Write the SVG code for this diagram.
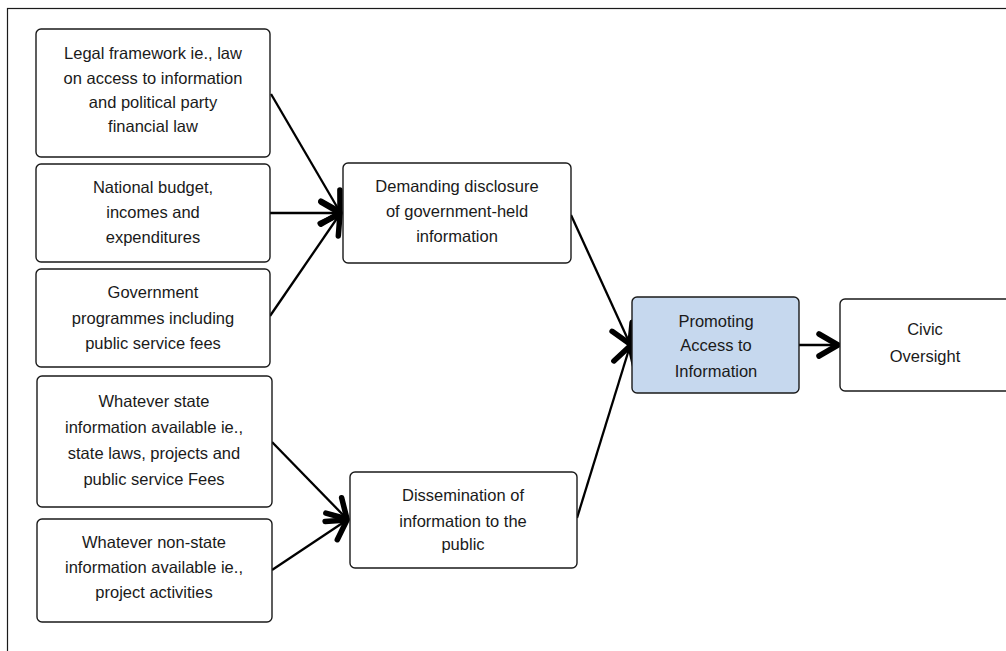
<svg xmlns="http://www.w3.org/2000/svg" width="1006" height="651" viewBox="0 0 1006 651">
  <style>
    .box { fill: #ffffff; stroke: #1a1a1a; stroke-width: 1.4; }
    .hl { fill: #c6d8ee; }
    .frame { fill: #ffffff; stroke: #1a1a1a; stroke-width: 1.2; }
    .lbl { font-family: "Liberation Sans", Arial, sans-serif; font-size: 16.5px; fill: #1a1a1a; text-anchor: middle; }
    .edge { fill: none; stroke: #000000; stroke-width: 2.3; marker-end: url(#head); }
  </style>
  <defs>
    <marker id="head" markerUnits="userSpaceOnUse" markerWidth="40" markerHeight="40" viewBox="-30 -20 40 40" refX="-2" refY="0" orient="auto" overflow="visible">
      <path d="M-21,-11 L-2,0 L-21,11" fill="none" stroke="#000000" stroke-width="5.5" stroke-linecap="round" stroke-linejoin="round"/>
    </marker>
  </defs>

  <!-- outer frame (continues past the right and bottom edges) -->
  <rect class="frame" x="7.5" y="8.5" width="1020" height="670"/>

  <!-- connectors -->
  <g id="connectors">
    <line class="edge" x1="271" y1="94" x2="340" y2="212"/>
    <line class="edge" x1="270" y1="213" x2="340" y2="213"/>
    <line class="edge" x1="270" y1="316" x2="340" y2="214"/>
    <line class="edge" x1="272" y1="442" x2="347" y2="519"/>
    <line class="edge" x1="272" y1="570" x2="347" y2="520"/>
    <line class="edge" x1="571" y1="215" x2="630" y2="344"/>
    <line class="edge" x1="577" y1="518" x2="630" y2="346"/>
    <line class="edge" x1="799" y1="345" x2="838" y2="345"/>
  </g>

  <!-- input nodes -->
  <g id="legal-framework">
    <rect class="box" x="36" y="29" width="234" height="128" rx="5"/>
    <text class="lbl" x="153" y="59">Legal framework ie., law</text>
    <text class="lbl" x="153" y="84">on access to information</text>
    <text class="lbl" x="153" y="108">and political party</text>
    <text class="lbl" x="153" y="132">financial law</text>
  </g>
  <g id="national-budget">
    <rect class="box" x="36" y="164" width="234" height="98" rx="5"/>
    <text class="lbl" x="153" y="193">National budget,</text>
    <text class="lbl" x="153" y="218">incomes and</text>
    <text class="lbl" x="153" y="243">expenditures</text>
  </g>
  <g id="government-programmes">
    <rect class="box" x="36" y="269" width="234" height="98" rx="5"/>
    <text class="lbl" x="153" y="298">Government</text>
    <text class="lbl" x="153" y="324">programmes including</text>
    <text class="lbl" x="153" y="349">public service fees</text>
  </g>
  <g id="state-information">
    <rect class="box" x="37" y="376" width="235" height="131" rx="5"/>
    <text class="lbl" x="154" y="407">Whatever state</text>
    <text class="lbl" x="154" y="433">information available ie.,</text>
    <text class="lbl" x="154" y="459">state laws, projects and</text>
    <text class="lbl" x="154" y="485">public service Fees</text>
  </g>
  <g id="non-state-information">
    <rect class="box" x="37" y="519" width="235" height="103" rx="5"/>
    <text class="lbl" x="154" y="548">Whatever non-state</text>
    <text class="lbl" x="154" y="573">information available ie.,</text>
    <text class="lbl" x="154" y="598">project activities</text>
  </g>

  <!-- intermediate nodes -->
  <g id="demanding-disclosure">
    <rect class="box" x="343" y="163" width="228" height="100" rx="5"/>
    <text class="lbl" x="457" y="192">Demanding disclosure</text>
    <text class="lbl" x="457" y="217">of government-held</text>
    <text class="lbl" x="457" y="242">information</text>
  </g>
  <g id="dissemination">
    <rect class="box" x="350" y="472" width="227" height="96" rx="5"/>
    <text class="lbl" x="463" y="501">Dissemination of</text>
    <text class="lbl" x="463" y="527">information to the</text>
    <text class="lbl" x="463" y="550">public</text>
  </g>

  <!-- outcome nodes -->
  <g id="promoting-access">
    <rect class="box hl" x="632" y="297" width="167" height="96" rx="5"/>
    <text class="lbl" x="716" y="327">Promoting</text>
    <text class="lbl" x="716" y="351">Access to</text>
    <text class="lbl" x="716" y="377">Information</text>
  </g>
  <g id="civic-oversight">
    <rect class="box" x="840" y="299" width="180" height="92" rx="5"/>
    <text class="lbl" x="925" y="335">Civic</text>
    <text class="lbl" x="925" y="362">Oversight</text>
  </g>
</svg>
